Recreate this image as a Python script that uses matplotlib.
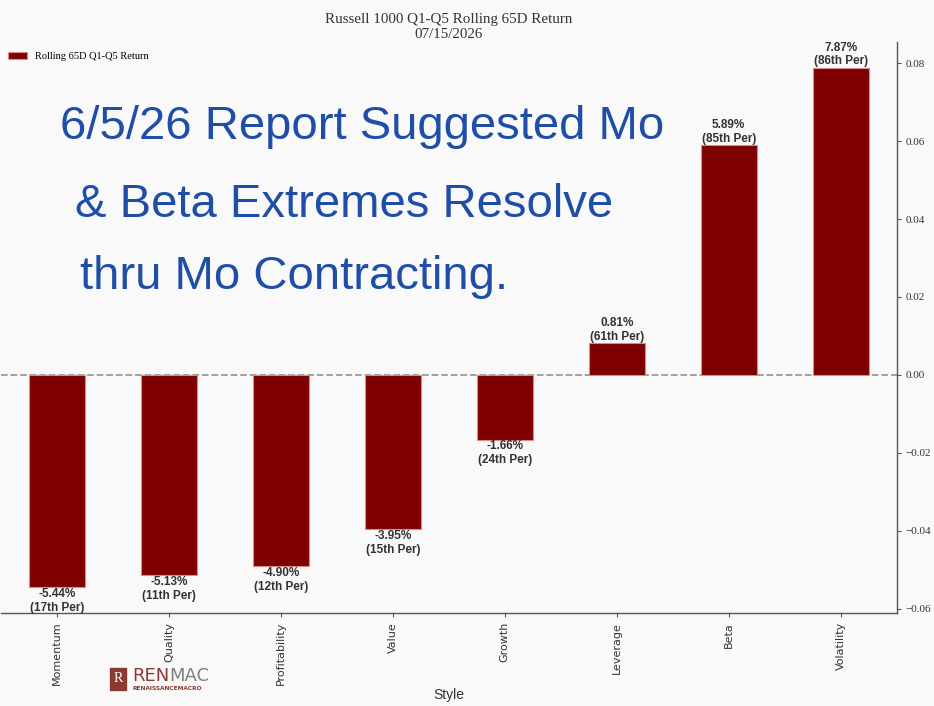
import matplotlib
matplotlib.use("Agg")
import matplotlib.pyplot as plt
from matplotlib.patches import Rectangle

# Data
styles = ["Momentum", "Quality", "Profitability", "Value", "Growth",
          "Leverage", "Beta", "Volatility"]
returns = [-0.0544, -0.0513, -0.0490, -0.0395, -0.0166, 0.0081, 0.0589, 0.0787]
percentiles = [17, 11, 12, 15, 24, 61, 85, 86]
y_ticks = [-0.06, -0.04, -0.02, 0.00, 0.02, 0.04, 0.06, 0.08]
note_lines = ["6/5/26 Report Suggested Mo",
              "& Beta Extremes Resolve",
              "thru Mo Contracting."]

bg = "#f9f9f9"
bar_color = "#7f0000"
sans = ["Liberation Sans", "DejaVu Sans"]

fig = plt.figure(figsize=(9.34, 7.06), dpi=100, facecolor=bg)
ax = fig.add_axes([0.001, 0.132, 0.959, 0.8085], facecolor=bg)

x = range(len(styles))
ax.bar(x, returns, width=0.5, color=bar_color, edgecolor="#d98a8a",
       linewidth=0.8, label="Rolling 65D Q1-Q5 Return", zorder=2)
ax.axhline(0, color="#999999", linestyle="--", linewidth=1.3, zorder=1)

# value / percentile labels
for xi, val, pct in zip(x, returns, percentiles):
    label = f"{val * 100:.2f}%\n({pct}th Per)"
    if val >= 0:
        ax.text(xi, val + 0.0002, label, ha="center", va="bottom",
                fontsize=8.5, fontweight="bold", color="#333333",
                family=sans, linespacing=1.2)
    else:
        ax.text(xi, val - 0.0002, label, ha="center", va="top",
                fontsize=8.5, fontweight="bold", color="#333333",
                family=sans, linespacing=1.2)

ax.set_xlim(-0.5, len(styles) - 0.5)
ax.set_ylim(-0.061, 0.0854)
ax.set_xticks(list(x))
ax.set_xticklabels(styles, rotation=90, fontsize=8, color="#333333",
                   family="DejaVu Sans")
ax.yaxis.tick_right()
ax.set_yticks(y_ticks)
ax.set_yticklabels([f"{t:.2f}".replace("-", "\u2212") for t in y_ticks],
                   fontsize=8, color="#333333", family="Liberation Serif")
ax.tick_params(axis="both", length=3, color="#555555")
ax.set_xlabel("Style", fontsize=10, color="#333333", family=sans,
              labelpad=2)

for side in ("left", "top"):
    ax.spines[side].set_visible(False)
for side in ("right", "bottom"):
    ax.spines[side].set_color("#555555")
    ax.spines[side].set_linewidth(1.0)

ax.set_title("Russell 1000 Q1-Q5 Rolling 65D Return\n07/15/2026",
             fontsize=10.8, family="Liberation Serif", color="#333333",
             pad=3, x=0.5, linespacing=1.2)

ax.legend(loc="upper left", bbox_to_anchor=(0.0, 0.995), frameon=False,
          prop={"family": "Liberation Serif", "size": 7.5},
          handlelength=1.8, handleheight=0.6, borderaxespad=0.3)

# handwritten note
for (nx, ny), line in zip([(0.064, 0.820), (0.080, 0.710), (0.086, 0.608)],
                          note_lines):
    fig.text(nx, ny, line, ha="left", va="center", fontsize=34,
             color="#1f4ea8", family=sans)

# RENMAC logo
fig.patches.append(Rectangle((0.118, 0.023), 0.017, 0.031,
                             transform=fig.transFigure, color="#8b3a2f"))
fig.text(0.1265, 0.039, "R", ha="center", va="center", fontsize=10,
         color="white", family="Liberation Serif")
fig.text(0.142, 0.030, "REN", ha="left", va="bottom", fontsize=13,
         color="#8b3a2f", family="DejaVu Sans")
fig.text(0.181, 0.030, "MAC", ha="left", va="bottom", fontsize=13,
         color="#808080", family="DejaVu Sans")
fig.text(0.142, 0.025, "RENAISSANCEMACRO", ha="left", va="center",
         fontsize=4.2, color="#8b3a2f", family="DejaVu Sans",
         fontweight="bold")

fig.savefig("out.png", dpi=100, facecolor=bg)
